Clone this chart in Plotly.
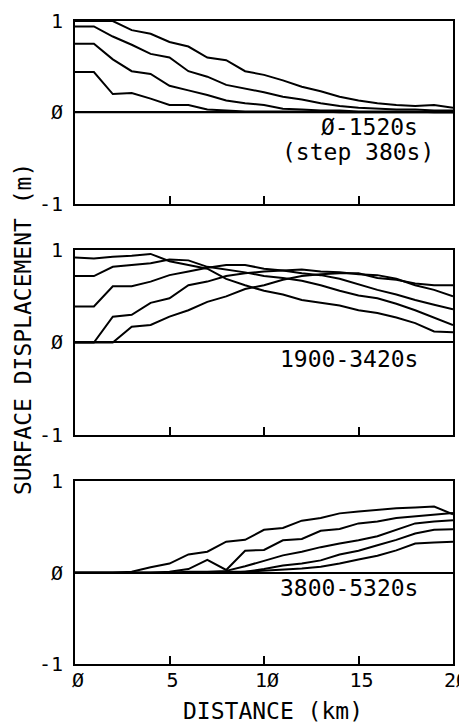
import plotly.graph_objects as go

# ---------------- data ----------------
distance_km = [0, 1, 2, 3, 4, 5, 6, 7, 8, 9, 10, 11, 12, 13, 14, 15, 16, 17, 18, 19, 20]

# panel 1: 0-1520 s (step 380 s)
p1_t0 = [0.0, 0.0, 0.0, 0.0, 0.0, 0.0, 0.0, 0.0, 0.0, 0.0, 0.0, 0.0, 0.0, 0.0, 0.0, 0.0, 0.0, 0.0, 0.0, 0.0, 0.0]
p1_t380 = [0.44, 0.44, 0.20, 0.21, 0.15, 0.08, 0.08, 0.03, 0.02, 0.01, 0.01, 0.01, 0.01, 0.01, 0.0, 0.0, 0.0, 0.0, 0.0, 0.0, 0.0]
p1_t760 = [0.75, 0.75, 0.58, 0.45, 0.42, 0.29, 0.24, 0.19, 0.13, 0.10, 0.08, 0.04, 0.03, 0.02, 0.02, 0.01, 0.01, 0.01, 0.01, 0.0, 0.0]
p1_t1140 = [0.94, 0.94, 0.83, 0.74, 0.64, 0.60, 0.45, 0.39, 0.30, 0.26, 0.22, 0.17, 0.14, 0.10, 0.07, 0.05, 0.04, 0.03, 0.03, 0.02, 0.02]
p1_t1520 = [1.0, 1.0, 1.0, 0.90, 0.86, 0.77, 0.72, 0.60, 0.57, 0.45, 0.41, 0.35, 0.28, 0.23, 0.17, 0.13, 0.10, 0.08, 0.07, 0.08, 0.05]

# panel 2: 1900-3420 s
p2_t1900 = [0.92, 0.91, 0.93, 0.94, 0.96, 0.88, 0.84, 0.80, 0.69, 0.62, 0.56, 0.52, 0.46, 0.43, 0.40, 0.35, 0.32, 0.27, 0.21, 0.12, 0.11]
p2_t2280 = [0.72, 0.72, 0.82, 0.84, 0.86, 0.90, 0.89, 0.82, 0.79, 0.76, 0.72, 0.70, 0.67, 0.62, 0.56, 0.51, 0.48, 0.42, 0.35, 0.27, 0.19]
p2_t2660 = [0.39, 0.39, 0.61, 0.61, 0.66, 0.73, 0.77, 0.81, 0.84, 0.84, 0.80, 0.78, 0.75, 0.73, 0.69, 0.63, 0.57, 0.52, 0.46, 0.41, 0.36]
p2_t3040 = [0.0, 0.0, 0.28, 0.30, 0.43, 0.48, 0.62, 0.66, 0.72, 0.75, 0.77, 0.78, 0.79, 0.77, 0.76, 0.74, 0.73, 0.69, 0.62, 0.57, 0.50]
p2_t3420 = [0.0, 0.0, 0.0, 0.17, 0.19, 0.28, 0.35, 0.44, 0.50, 0.58, 0.62, 0.68, 0.72, 0.74, 0.75, 0.75, 0.70, 0.68, 0.64, 0.62, 0.62]

# panel 3: 3800-5320 s
p3_t3800 = [0.0, 0.0, 0.0, 0.01, 0.06, 0.10, 0.20, 0.23, 0.34, 0.36, 0.47, 0.49, 0.57, 0.60, 0.65, 0.67, 0.69, 0.705, 0.715, 0.725, 0.64]
p3_t4180 = [0.0, 0.0, 0.0, 0.0, 0.0, 0.01, 0.04, 0.14, 0.03, 0.24, 0.25, 0.355, 0.37, 0.46, 0.48, 0.54, 0.56, 0.60, 0.62, 0.635, 0.655]
p3_t4560 = [0.0, 0.0, 0.0, 0.0, 0.0, 0.0, 0.01, 0.01, 0.02, 0.07, 0.13, 0.19, 0.23, 0.28, 0.32, 0.355, 0.40, 0.47, 0.54, 0.56, 0.575]
p3_t4940 = [0.0, 0.0, 0.0, 0.0, 0.0, 0.0, 0.0, 0.0, 0.01, 0.01, 0.04, 0.08, 0.10, 0.135, 0.20, 0.24, 0.30, 0.36, 0.43, 0.47, 0.475]
p3_t5320 = [0.0, 0.0, 0.0, 0.0, 0.0, 0.0, 0.0, 0.0, 0.0, 0.01, 0.02, 0.03, 0.045, 0.065, 0.10, 0.145, 0.185, 0.245, 0.32, 0.33, 0.34]

panel_labels = [["Ø-1520s", "(step 380s)"], ["1900-3420s"], ["3800-5320s"]]
x_tick_vals = [0, 5, 10, 15, 20]
x_tick_text = ["Ø", "5", "1Ø", "15", "2Ø"]
y_tick_vals = [-1, 0, 1]
y_tick_text = ["-1", "Ø", "1"]
x_title = "DISTANCE (km)"
y_title = "SURFACE DISPLACEMENT (m)"

panels = [
    [("0 s", p1_t0), ("380 s", p1_t380), ("760 s", p1_t760), ("1140 s", p1_t1140), ("1520 s", p1_t1520)],
    [("1900 s", p2_t1900), ("2280 s", p2_t2280), ("2660 s", p2_t2660), ("3040 s", p2_t3040), ("3420 s", p2_t3420)],
    [("3800 s", p3_t3800), ("4180 s", p3_t4180), ("4560 s", p3_t4560), ("4940 s", p3_t4940), ("5320 s", p3_t5320)],
]

# ---------------- figure ----------------
FONT = "DejaVu Sans Mono"
W, H = 467, 725
# calibration of page placement (screen = OFF + S * figure coordinate)
OFFX, OFFY, S = 8.0, 15.0, 0.989


def fx(rx):
    return (rx - OFFX) / S


def fy(ry):
    return (ry - OFFY) / S


PL, PR, PT, PB = fx(74), fx(448), fy(16), fy(664)
ML, MR, MT, MB = PL, W - PR, PT, H - PB
plot_w = PR - PL
plot_h = PB - PT


def paper_x(rx):
    return (fx(rx) - PL) / plot_w


def paper_y(ry):
    return (PB - fy(ry)) / plot_h


panel_px = [(16, 200), (247, 433), (480, 664)]

fig = go.Figure()
for i, series in enumerate(panels):
    xa = "x" if i == 0 else f"x{i + 1}"
    ya = "y" if i == 0 else f"y{i + 1}"
    for name, vals in series:
        fig.add_trace(go.Scatter(
            x=distance_km, y=vals, mode="lines", name=name,
            line=dict(color="black", width=2),
            xaxis=xa, yaxis=ya, showlegend=False,
        ))

layout = dict(
    width=W, height=H,
    margin=dict(l=ML, r=MR, t=MT, b=MB, pad=0),
    paper_bgcolor="white", plot_bgcolor="white",
    font=dict(family=FONT, color="black", size=20),
    showlegend=False,
)

for i, (top, bot) in enumerate(panel_px):
    xk = "xaxis" if i == 0 else f"xaxis{i + 1}"
    yk = "yaxis" if i == 0 else f"yaxis{i + 1}"
    ya = "y" if i == 0 else f"y{i + 1}"
    xa = "x" if i == 0 else f"x{i + 1}"
    layout[xk] = dict(
        domain=[0, 1], anchor=ya, range=[0, 20],
        tickmode="array", tickvals=x_tick_vals, ticktext=x_tick_text,
        showticklabels=(i == 2), ticklabelstandoff=-3, ticklabelshift=3,
        ticks="inside", ticklen=8, tickwidth=1.5, tickcolor="black",
        showline=True, linewidth=2, linecolor="black", mirror=True,
        showgrid=False, zeroline=False,
        tickfont=dict(family=FONT, size=20, color="black"),
    )
    layout[yk] = dict(
        domain=[max(0.0, paper_y(bot)), min(1.0, paper_y(top))], anchor=xa, range=[-1, 1],
        tickmode="array", tickvals=y_tick_vals, ticktext=y_tick_text,
        ticks="", ticklabelstandoff=6,
        showline=True, linewidth=2, linecolor="black", mirror=True,
        showgrid=False, zeroline=True, zerolinecolor="black", zerolinewidth=2,
        tickfont=dict(family=FONT, size=20, color="black"),
    )

fig.update_layout(**layout)

ann_font = dict(family=FONT, size=23, color="black")
annotations = [
    dict(text=panel_labels[0][0], x=paper_x(415), y=paper_y(123)),
    dict(text=panel_labels[0][1], x=paper_x(431), y=paper_y(148)),
    dict(text=panel_labels[1][0], x=paper_x(415), y=paper_y(357)),
    dict(text=panel_labels[2][0], x=paper_x(415), y=paper_y(587)),
]
for a in annotations:
    fig.add_annotation(xref="paper", yref="paper", xanchor="right", yanchor="middle",
                       showarrow=False, font=ann_font, **a)

fig.add_annotation(text=x_title, xref="paper", yref="paper", x=paper_x(270), y=paper_y(711),
                   xanchor="center", yanchor="middle", showarrow=False, font=ann_font)
fig.add_annotation(text=y_title, xref="paper", yref="paper", x=paper_x(22), y=paper_y(326),
                   xanchor="center", yanchor="middle", textangle=-90, showarrow=False, font=ann_font)

fig.write_html("out.html")
